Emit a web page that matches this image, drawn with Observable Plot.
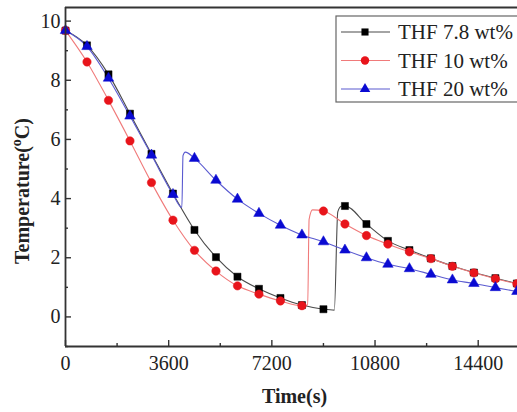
<!DOCTYPE html>
<html><head><meta charset="utf-8">
<script src="https://cdn.jsdelivr.net/npm/d3@7"></script>
<script src="https://cdn.jsdelivr.net/npm/@observablehq/plot@0.6"></script>
<style>
body{margin:0;background:#fff}
#chart svg{font-family:"Liberation Serif","Times New Roman",serif;overflow:visible}
</style>
</head><body><div id="chart"></div>
<script>
// ---- data ----
const times = [0,750,1500,2250,3000,3750,4500,5250,6000,6750,7500,8250,9000,9750,10500,11250,12000,12750,13500,14250,15000,15750];
const thf78 = [9.68,9.18,8.20,6.87,5.51,4.17,2.94,2.02,1.36,0.95,0.64,0.40,0.26,3.75,3.14,2.57,2.26,1.98,1.72,1.50,1.31,1.13];
const thf10 = [9.68,8.62,7.32,5.95,4.54,3.27,2.25,1.55,1.05,0.77,0.54,0.38,3.58,3.14,2.75,2.46,2.20,1.97,1.71,1.49,1.29,1.12];
const thf20 = [9.68,9.14,8.07,6.79,5.47,4.14,5.36,4.62,3.98,3.50,3.10,2.77,2.54,2.26,2.00,1.78,1.63,1.44,1.25,1.13,0.99,0.86];
// extra points of the recorded traces around the sudden temperature rises
const thf78RiseT = [9380,9500,9620];
const thf78RiseV = [0.23,3.55,3.74];
const thf10RiseT = [8450,8500,8620];
const thf10RiseV = [0.40,3.30,3.62];
const thf20RiseT = [4060,4100,4180];
const thf20RiseV = [3.70,5.45,5.57];
const seriesNames = ["THF 7.8 wt%","THF 10 wt%","THF 20 wt%"];
const xMajor = [0,3600,7200,10800,14400];
const xMinor = [1800,5400,9000,12600];
const yMajor = [0,2,4,6,8,10];
const yMinor = [-1,1,3,5,7,9];
const xDomain = [0,15771];
const yDomain = [-1,10.46];

// ---- styles ----
const styles = [
  {line:"#4a4a4a", fill:"#000000", symbol:"square", r:4},
  {line:"#f07a7a", fill:"#e8141b", symbol:"circle", r:4.2},
  {line:"#5a5ad0", fill:"#0a0ad2", symbol:"triangle", r:3.9}
];
const values = [thf78, thf10, thf20];
const riseT = [thf78RiseT, thf10RiseT, thf20RiseT];
const riseV = [thf78RiseV, thf10RiseV, thf20RiseV];

const seriesMarks = [];
seriesNames.forEach((name, i) => {
  const pts = times.map((t, j) => ({t, v: values[i][j]}));
  const trace = pts.concat(riseT[i].map((t, j) => ({t, v: riseV[i][j]}))).sort((a,b)=>a.t-b.t);
  seriesMarks.push(Plot.line(trace, {x:"t", y:"v", stroke: styles[i].line, strokeWidth:1.1, curve:"monotone-x"}));
});
seriesNames.forEach((name, i) => {
  const pts = times.map((t, j) => ({t, v: values[i][j]}));
  seriesMarks.push(Plot.dot(pts, {x:"t", y:"v", symbol: styles[i].symbol, r: styles[i].r, fill: styles[i].fill, stroke: styles[i].fill, strokeWidth:0.5}));
});

const axisColor = "#333";
const chart = Plot.plot({
  width:517, height:412,
  marginLeft:65, marginRight:0, marginTop:7, marginBottom:66,
  style:{background:"#fff", color:"#222", fontSize:"20px", fontFamily:"Liberation Serif, serif"},
  x:{domain:xDomain, label:null, axis:null},
  y:{domain:yDomain, label:null, axis:null},
  marks:[
    ...seriesMarks,
    Plot.axisX(xMajor, {tickSize:-6, tickPadding:15, tickFormat:d=>String(d), label:null, stroke:axisColor, strokeWidth:1.4, fontSize:20, fill:"#222"}),
    Plot.axisX(xMinor, {tickSize:-3, tickPadding:0, tickFormat:()=>"", label:null, stroke:axisColor, strokeWidth:1.4}),
    Plot.axisY(yMajor, {tickSize:-6, tickPadding:11, tickFormat:d=>String(d), label:null, stroke:axisColor, strokeWidth:1.4, fontSize:20, fill:"#222"}),
    Plot.axisY(yMinor, {tickSize:-3, tickPadding:0, tickFormat:()=>"", label:null, stroke:axisColor, strokeWidth:1.4}),
    Plot.ruleY([yDomain[0], yDomain[1]], {stroke:axisColor, strokeWidth:1.8}),
    Plot.ruleX([xDomain[0]], {stroke:axisColor, strokeWidth:1.8}),
    Plot.text(["Time(s)"], {frameAnchor:"bottom", dx:3, dy:56, fontWeight:"bold", fontSize:20, fill:"#222", lineAnchor:"bottom"})
  ]
});
document.getElementById("chart").appendChild(chart);

// y-axis title with superscript
const svg = d3.select(chart);
const yt = svg.append("text")
  .attr("transform","translate(29,191) rotate(-90)")
  .attr("text-anchor","middle")
  .attr("font-weight","bold").attr("font-size",20).attr("fill","#222");
yt.append("tspan").text("Temperature(");
yt.append("tspan").attr("dy",-8).attr("font-size",14).text("o");
yt.append("tspan").attr("dy",8).text("C)");

// legend
const lg = svg.append("g");
lg.append("rect").attr("x",336).attr("y",16).attr("width",200).attr("height",86)
  .attr("fill","#fff").attr("stroke","#666").attr("stroke-width",1.2);
seriesNames.forEach((name,i)=>{
  const y = 32 + i*28.5;
  lg.append("line").attr("x1",341).attr("x2",390).attr("y1",y).attr("y2",y)
    .attr("stroke",styles[i].line).attr("stroke-width",1.1);
  const sym = {square:d3.symbolSquare, circle:d3.symbolCircle, triangle:d3.symbolTriangle}[styles[i].symbol];
  lg.append("path").attr("transform",`translate(365,${y})`)
    .attr("d", d3.symbol(sym, Math.PI*styles[i].r*styles[i].r)())
    .attr("fill",styles[i].fill);
  lg.append("text").attr("x",398).attr("y",y+7).attr("text-anchor","start")
    .attr("font-size",21).attr("fill","#222").text(name);
});
</script>
</body></html>
